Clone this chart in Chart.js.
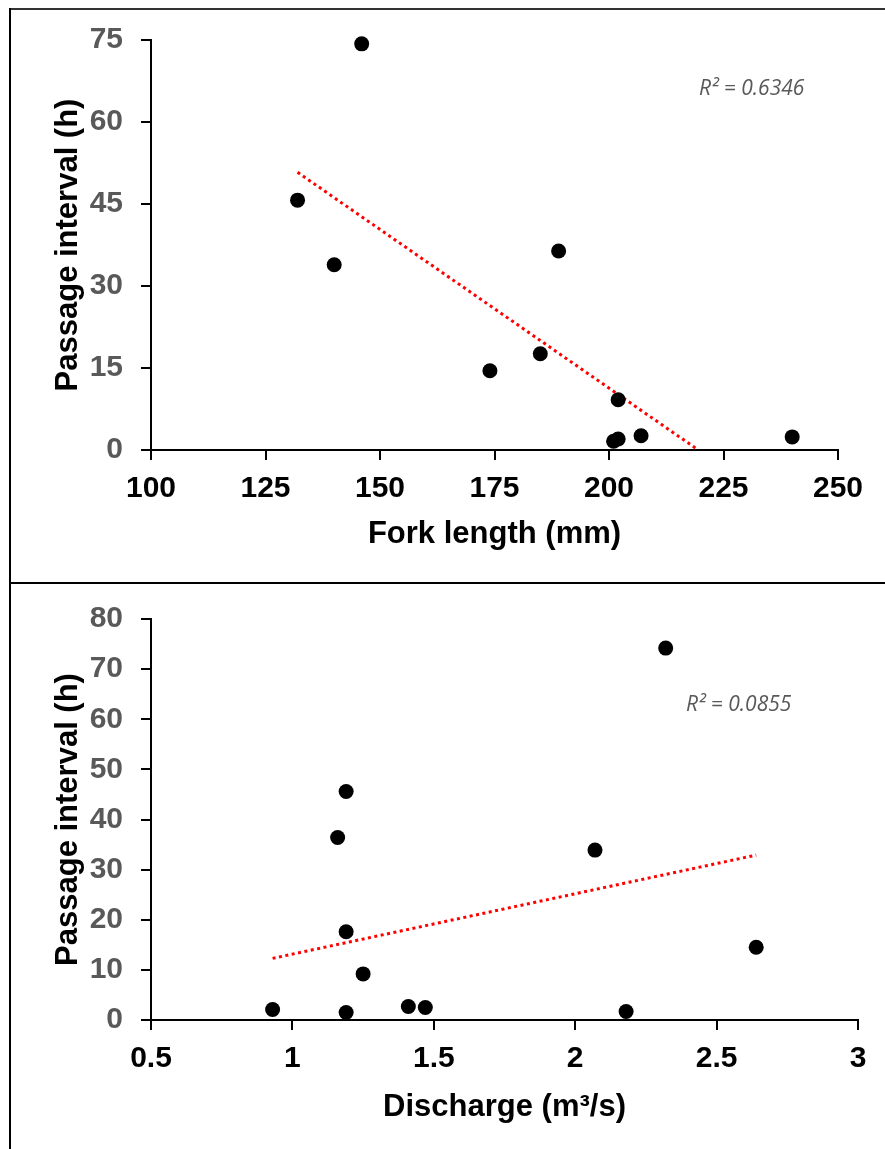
<!DOCTYPE html>
<html>
<head>
<meta charset="utf-8">
<script src="https://cdn.jsdelivr.net/npm/chart.js@4.4.1/dist/chart.umd.min.js"></script>
<style>
  body { margin: 0; background: #fff; width: 885px; height: 1149px; overflow: hidden; position: relative; }
  canvas { position: absolute; left: 0; }
  .line { position: absolute; background: #000; z-index: 2; }
  .r2 { position: absolute; font: italic 21px 'Open Sans', sans-serif; color: #595959; line-height: 21px; white-space: nowrap; }
</style>
</head>
<body>
<div class="line" style="left:9px; top:8px; width:876px; height:2px; background:#333;"></div>
<div class="line" style="left:9px; top:8px; width:2px; height:1141px;"></div>
<div class="line" style="left:9px; top:582px; width:876px; height:2px;"></div>

<canvas id="topChart" style="top:0" width="885" height="583"></canvas>
<canvas id="bottomChart" style="top:583px" width="885" height="566"></canvas>

<div class="r2" style="left:699px; top:77px;">R² = 0.6346</div>
<div class="r2" style="left:686px; top:693px;">R² = 0.0855</div>

<script>
// Top panel: fork length vs passage interval
const forkLength = [146, 132, 140, 189, 174, 185, 202, 201, 202, 207, 240];
const intervalByLength = [74.3, 45.7, 33.9, 36.4, 14.5, 17.6, 9.2, 1.6, 2.0, 2.6, 2.4];
const trendLengthX = [132, 219.5];
const trendLengthY = [50.8, 0];

// Bottom panel: discharge vs passage interval
const discharge = [2.32, 1.19, 1.16, 2.07, 1.19, 2.64, 1.25, 0.93, 1.19, 1.41, 1.47, 2.18];
const intervalByDischarge = [74.2, 45.6, 36.4, 33.9, 17.6, 14.5, 9.2, 2.1, 1.5, 2.7, 2.5, 1.7];
const trendDischargeX = [0.93, 2.64];
const trendDischargeY = [12.3, 32.9];

const tickFont = { family: "'Liberation Sans', Arial, sans-serif", size: 30, weight: 'bold' };
const titleFont = { family: "'Liberation Sans', Arial, sans-serif", size: 31, weight: 'bold' };

function pairs(xs, ys) {
    return xs.map((x, i) => ({ x: x, y: ys[i] }));
}

function makeChart(id, cfg) {
    return new Chart(document.getElementById(id), {
        type: 'scatter',
        data: {
            datasets: [
                {
                    data: pairs(cfg.x, cfg.y),
                    pointRadius: 7.5,
                    pointBackgroundColor: '#000',
                    pointBorderWidth: 0,
                    clip: false,
                    order: 1
                },
                {
                    type: 'line',
                    data: pairs(cfg.tx, cfg.ty),
                    borderColor: '#ff0000',
                    borderWidth: 3,
                    borderDash: [3, 3.5],
                    pointRadius: 0,
                    fill: false,
                    clip: false,
                    order: 2
                }
            ]
        },
        options: {
            responsive: false,
            animation: false,
            events: [],
            layout: { padding: { left: 0, right: cfg.padRight, top: cfg.padTop, bottom: 0 } },
            plugins: { legend: { display: false }, tooltip: { enabled: false } },
            scales: {
                x: {
                    type: 'linear',
                    min: cfg.xMin, max: cfg.xMax,
                    afterFit: s => { s.height = cfg.xHeight; },
                    ticks: {
                        stepSize: cfg.xStep, font: tickFont, color: '#000', padding: 11,
                        maxRotation: 0, autoSkip: false,
                        callback: v => String(Math.round(v * 100) / 100)
                    },
                    grid: { drawOnChartArea: false, drawTicks: true, tickLength: 10, color: '#000', lineWidth: 2 },
                    border: { display: true, color: '#000', width: 2 },
                    title: { display: true, text: cfg.xTitle, font: titleFont, color: '#000', padding: { top: 0, bottom: cfg.xTitlePad } }
                },
                y: {
                    min: cfg.yMin, max: cfg.yMax,
                    afterFit: s => { s.width = 151; },
                    ticks: { stepSize: cfg.yStep, font: tickFont, color: '#595959', padding: 18 },
                    grid: { drawOnChartArea: false, drawTicks: true, tickLength: 10, color: '#000', lineWidth: 2 },
                    border: { display: true, color: '#000', width: 2 },
                    title: { display: true, text: 'Passage interval (h)', font: titleFont, color: '#000', padding: { top: 50, bottom: 0 } }
                }
            }
        }
    });
}

makeChart('topChart', {
    x: forkLength, y: intervalByLength, tx: trendLengthX, ty: trendLengthY,
    xMin: 100, xMax: 250, xStep: 25, yMin: 0, yMax: 75, yStep: 15,
    xTitle: 'Fork length (mm)', padRight: 47, padTop: 40, xHeight: 133, xTitlePad: 30
});

makeChart('bottomChart', {
    x: discharge, y: intervalByDischarge, tx: trendDischargeX, ty: trendDischargeY,
    xMin: 0.5, xMax: 3, xStep: 0.5, yMin: 0, yMax: 80, yStep: 10,
    xTitle: 'Discharge (m³/s)', padRight: 27, padTop: 26, xHeight: 129, xTitlePad: 23
});
</script>
</body>
</html>
